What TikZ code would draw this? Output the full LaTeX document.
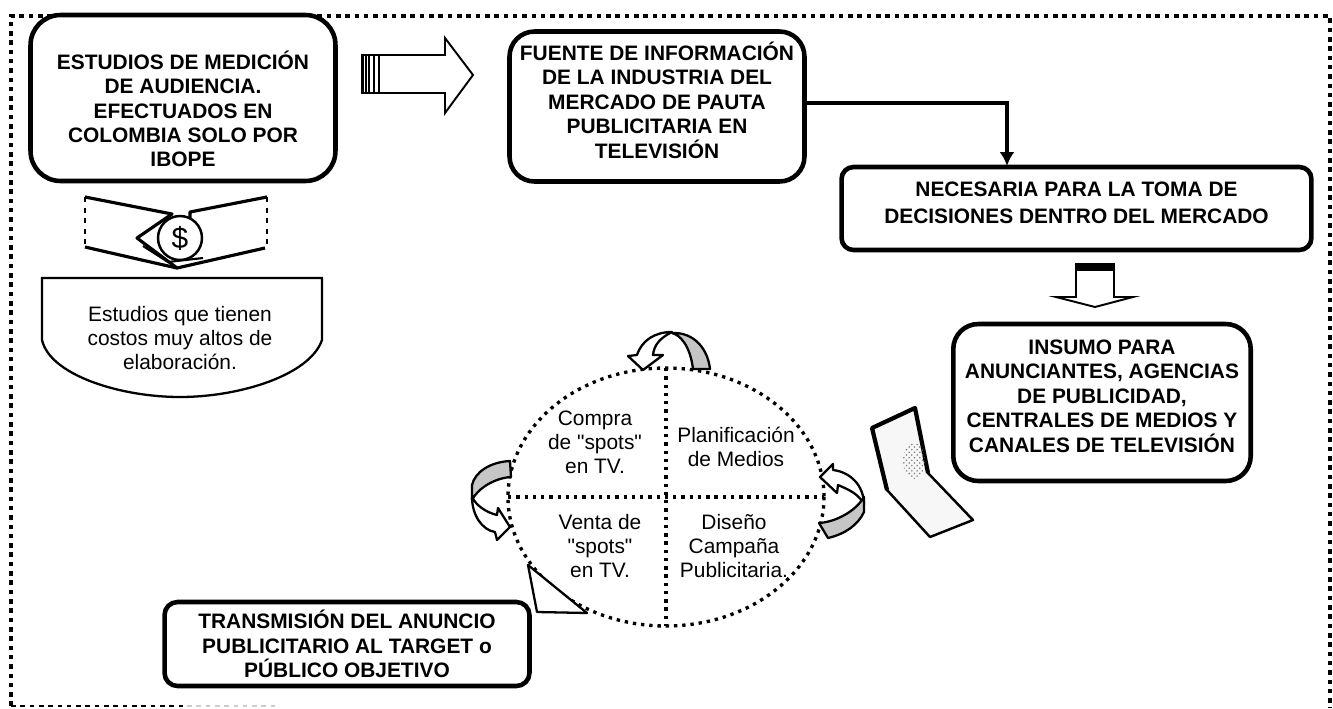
\documentclass[tikz,border=0pt]{standalone}
\usepackage{fontspec}
\setmainfont{Liberation Sans}[Ligatures=TeXOff]
\usetikzlibrary{arrows.meta,patterns}

\tikzset{
    boxed/.style={draw, line width=2.6pt, rounded corners=0.5cm, fill=white, align=center, inner sep=0pt, font=\fontsize{11.9}{13.9}\selectfont\bfseries},
    plain/.style={align=center, inner sep=0pt, font=\fontsize{11.9}{13.6}\selectfont},
    frame/.style={line width=2.6pt, dash pattern=on 2.6pt off 2.7pt},
    rim/.style={line width=1.9pt, dash pattern=on 1.9pt off 2.8pt},
    block/.style={draw, line width=1.1pt, fill=white, line join=miter},
    ink/.style={draw, line width=1.3pt, fill=white, line join=round},
    band/.style={draw, line width=1.3pt, fill=gray!45, line join=round},
    flow/.style={line width=2.6pt, -{Latex[length=0.28cm,width=0.3cm]}},
    wing/.style={line width=1.8pt, line join=round}
}

\begin{document}
\begin{tikzpicture}[x=0.02cm, y=-0.02cm]

    \useasboundingbox (0,0) rectangle (1333,708);

    % dotted frame
    \draw[frame] (11,706) -- (11,16) -- (1330,16) -- (1330,708);
    \draw[frame, line width=1.6pt] (11,706) -- (187,706);
    \draw[frame, line width=1.6pt, gray!40] (187,706) -- (280,706);

    % boxes
    \draw(183,98) node[boxed, minimum width=6.1cm, minimum height=3.32cm, rounded corners=0.6cm] (a) {\rule{0pt}{23pt}ESTUDIOS DE MEDICIÓN\\DE AUDIENCIA.\\EFECTUADOS EN\\COLOMBIA SOLO POR\\IBOPE};
    \draw(657,106.5) node[boxed, minimum width=5.9cm, minimum height=3.0cm] (b) {FUENTE DE INFORMACIÓN\\DE LA INDUSTRIA DEL\\MERCADO DE PAUTA\\PUBLICITARIA EN\\TELEVISIÓN\rule[-7.5pt]{0pt}{0pt}};
    \draw(1076.5,208.5) node[boxed, minimum width=9.4cm, minimum height=1.66cm, rounded corners=0.24cm] (c) {NECESARIA PARA LA TOMA DE\\[1.3pt]DECISIONES DENTRO DEL MERCADO\rule[-7pt]{0pt}{0pt}};
    \draw(1102,402.5) node[boxed, minimum width=5.95cm, minimum height=3.14cm, rounded corners=0.5cm] (d) {INSUMO PARA\\ANUNCIANTES, AGENCIAS\\DE PUBLICIDAD,\\CENTRALES DE MEDIOS Y\\CANALES DE TELEVISIÓN\rule[-7.5pt]{0pt}{0pt}};
    \draw(347,644) node[boxed, minimum width=7.3cm, minimum height=1.68cm, rounded corners=0.26cm] (e) {TRANSMISIÓN DEL ANUNCIO\\PUBLICITARIO AL TARGET o\\PÚBLICO OBJETIVO};

    \coordinate (cin) at (1007,166);
    \draw[flow] ([yshift=0.07cm]b.east) -| (cin);

    % block arrow to the right
    \draw[block] (362,55) -- (445,55) -- (445,38) -- (473,75) -- (445,113) -- (445,93) -- (362,93) -- cycle;
    \foreach \x in {363,366,369,374,379}
        \draw[line width=1pt] (\x,55) -- (\x,93);

    % block arrow down
    \draw[block] (1076,265) -- (1114,265) -- (1114,297) -- (1133,297) -- (1095,307) -- (1056,297) -- (1076,297) -- cycle;
    \fill (1075,263) rectangle (1115,271);

    % money
    \draw[wing] (85,197) -- (172,214) -- (137,238) -- (177,268);
    \draw[wing] (85,247) -- (133,258) -- (177,268) -- (265,248);
    \draw[wing] (267,197) -- (190,212) -- (190,222);
    \draw[line width=0.7pt, dashed] (85,197) -- (85,247);
    \draw[line width=0.7pt, dashed] (267,197) -- (267,248);
    \draw[line width=1.2pt] (143,246) -- (168,262) -- (203,258);
    \draw(180,238) node[circle, draw, line width=1.4pt, fill=white, minimum size=0.88cm, inner sep=0pt, font=\fontsize{17}{17}\selectfont] (coin) {\$};

    % costs
    \draw[line width=1.3pt, fill=white] (42,278) -- (322,278) -- (322,340) .. controls (310,375) and (240,397) .. (180,397) .. controls (120,397) and (50,375) .. (42,340) -- cycle;
    \draw(180,338) node[plain] (f) {Estudios que tienen\\costos muy altos de\\elaboración.};

    % circle
    \draw[rim] (666,497) ellipse (158 and 129);
    \draw(666,368) coordinate (n) (666,626) coordinate (s) (508,497) coordinate (w) (824,497) coordinate (o);
    \draw[rim] (n) -- (s);
    \draw[rim] (w) -- (o);
    \draw(595,442) node[plain] (g) {Compra\\de "spots"\\en TV.};
    \draw(736,447) node[plain] (h) {Planificación\\de Medios};
    \draw(600,546) node[plain] (i) {Venta de\\"spots"\\en TV.};
    \draw(734,546) node[plain] (j) {Diseño\\Campaña\\Publicitaria.};

    % turning arrows
    \draw[band] (693,369) .. controls (690,345) and (680,335) .. (672,333) .. controls (695,332) and (708,350) .. (710,369) -- cycle;
    \draw[ink] (643,370) -- (628,356) -- (637,355) .. controls (642,340) and (655,332) .. (672,332) .. controls (660,338) and (654,345) .. (653,355) -- (663,355) -- cycle;

    \draw[ink] (820,477) -- (833,464) -- (833,470) .. controls (850,472) and (864,485) .. (864,505) .. controls (860,495) and (850,490) .. (838,485) -- (837,493) -- cycle;
    \draw[band] (819,523) .. controls (835,522) and (855,512) .. (864,497) -- (864,512) .. controls (858,525) and (845,534) .. (828,538) -- cycle;

    \draw[ink] (510,527) -- (497,540) -- (495,532) .. controls (482,530) and (472,515) .. (472,497) .. controls (476,505) and (485,512) .. (497,515) -- (498,508) -- cycle;
    \draw[band] (510,461) .. controls (490,462) and (475,472) .. (472,485) -- (472,500) .. controls (478,488) and (495,478) .. (511,477) -- cycle;

    % bent sheet
    \draw[line width=1.4pt, fill=gray!6, line join=round] (915,408) -- (872,428) -- (887,490) -- (930,537) -- (973,520) -- (928,473) -- cycle;
    \draw[line width=2.4pt, line join=round] (887,490) -- (872,428) -- (915,408) -- (928,473);
    \fill[pattern=crosshatch dots, pattern color=gray] (914,461) ellipse (11 and 18);

    % small page
    \draw[ink] (528,565) -- (537,612) -- (587,613) -- cycle;

\end{tikzpicture}
\end{document}
